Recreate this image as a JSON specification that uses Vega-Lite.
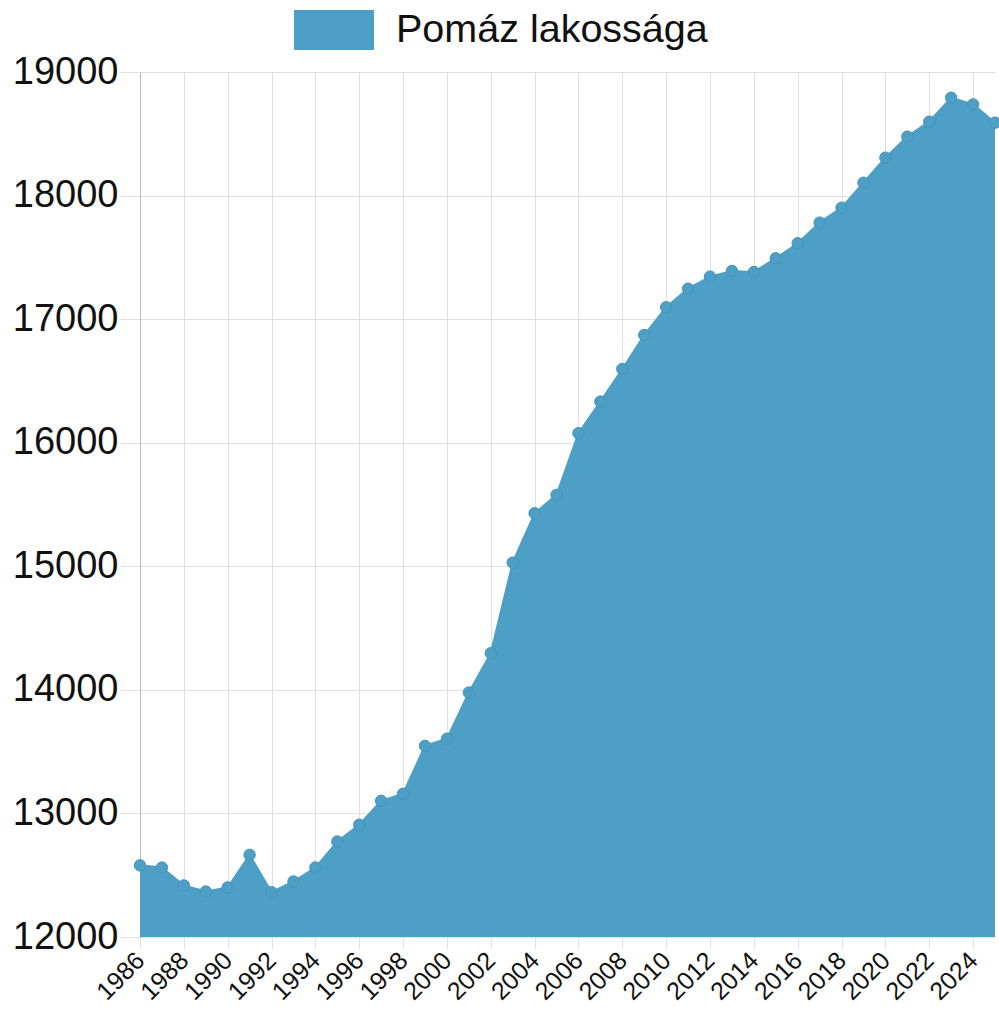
{
  "$schema": "https://vega.github.io/schema/vega-lite/v6.json",
  "width": 855,
  "height": 865,
  "autosize": {"type": "none"},
  "padding": {"left": 140, "top": 72, "right": 4, "bottom": 72},
  "background": "white",
  "config": {
    "view": {"stroke": null},
    "font": "Liberation Sans"
  },
  "data": {
    "values": [
      {"year": 1986, "pop": 12580},
      {"year": 1987, "pop": 12562},
      {"year": 1988, "pop": 12417},
      {"year": 1989, "pop": 12368},
      {"year": 1990, "pop": 12401},
      {"year": 1991, "pop": 12665},
      {"year": 1992, "pop": 12363},
      {"year": 1993, "pop": 12449},
      {"year": 1994, "pop": 12562},
      {"year": 1995, "pop": 12773},
      {"year": 1996, "pop": 12908},
      {"year": 1997, "pop": 13102},
      {"year": 1998, "pop": 13159},
      {"year": 1999, "pop": 13547},
      {"year": 2000, "pop": 13604},
      {"year": 2001, "pop": 13978},
      {"year": 2002, "pop": 14297},
      {"year": 2003, "pop": 15030},
      {"year": 2004, "pop": 15429},
      {"year": 2005, "pop": 15578},
      {"year": 2006, "pop": 16077},
      {"year": 2007, "pop": 16333},
      {"year": 2008, "pop": 16597},
      {"year": 2009, "pop": 16872},
      {"year": 2010, "pop": 17096},
      {"year": 2011, "pop": 17247},
      {"year": 2012, "pop": 17344},
      {"year": 2013, "pop": 17390},
      {"year": 2014, "pop": 17382},
      {"year": 2015, "pop": 17493},
      {"year": 2016, "pop": 17614},
      {"year": 2017, "pop": 17781},
      {"year": 2018, "pop": 17902},
      {"year": 2019, "pop": 18104},
      {"year": 2020, "pop": 18307},
      {"year": 2021, "pop": 18477},
      {"year": 2022, "pop": 18598},
      {"year": 2023, "pop": 18792},
      {"year": 2024, "pop": 18738},
      {"year": 2025, "pop": 18590}
    ]
  },
  "encoding": {
    "x": {
      "field": "year",
      "type": "quantitative",
      "scale": {"domain": [1986, 2025], "nice": false, "zero": false},
      "axis": {
        "title": null,
        "values": [1986, 1988, 1990, 1992, 1994, 1996, 1998, 2000, 2002, 2004, 2006, 2008, 2010, 2012, 2014, 2016, 2018, 2020, 2022, 2024],
        "format": "d",
        "labelAngle": -45,
        "labelAlign": "right",
        "labelBaseline": "middle",
        "labelFontSize": 25,
        "labelColor": "#111111",
        "labelPadding": 7,
        "labelOverlap": false,
        "labelFlush": false,
        "tickSize": 12,
        "tickColor": "#e0e0e0",
        "gridColor": "#e0e0e0",
        "domain": false
      }
    },
    "y": {
      "field": "pop",
      "type": "quantitative",
      "scale": {"domain": [12000, 19000], "nice": false, "zero": false},
      "axis": {
        "title": null,
        "values": [12000, 13000, 14000, 15000, 16000, 17000, 18000, 19000],
        "format": "d",
        "labelFontSize": 38,
        "labelColor": "#111111",
        "labelPadding": 2,
        "tickSize": 20,
        "tickColor": "#e0e0e0",
        "gridColor": "#e0e0e0",
        "domainColor": "#bbbbbb",
        "labelFlush": false
      }
    }
  },
  "layer": [
    {
      "mark": {"type": "area", "interpolate": "linear", "clip": true, "opacity": 1, "line": {"color": "#4a9bc2", "strokeWidth": 2}},
      "encoding": {
        "color": {
          "datum": "Pomáz lakossága",
          "type": "nominal",
          "scale": {"range": ["#4e9fc5"]},
          "legend": {
            "title": null,
            "orient": "none",
            "legendX": 154,
            "legendY": -82,
            "symbolType": "M-1,-0.5H1V0.5H-1Z",
            "symbolSize": 6400,
            "symbolStrokeWidth": 0,
            "symbolOpacity": 1,
            "labelFontSize": 39.5,
            "labelColor": "#111111",
            "labelOffset": 22,
            "labelLimit": 500
          }
        }
      }
    },
    {
      "mark": {"type": "point", "filled": true, "size": 130, "color": "#4e9fc5", "stroke": "#4592b8", "strokeWidth": 1, "opacity": 1}
    }
  ]
}
